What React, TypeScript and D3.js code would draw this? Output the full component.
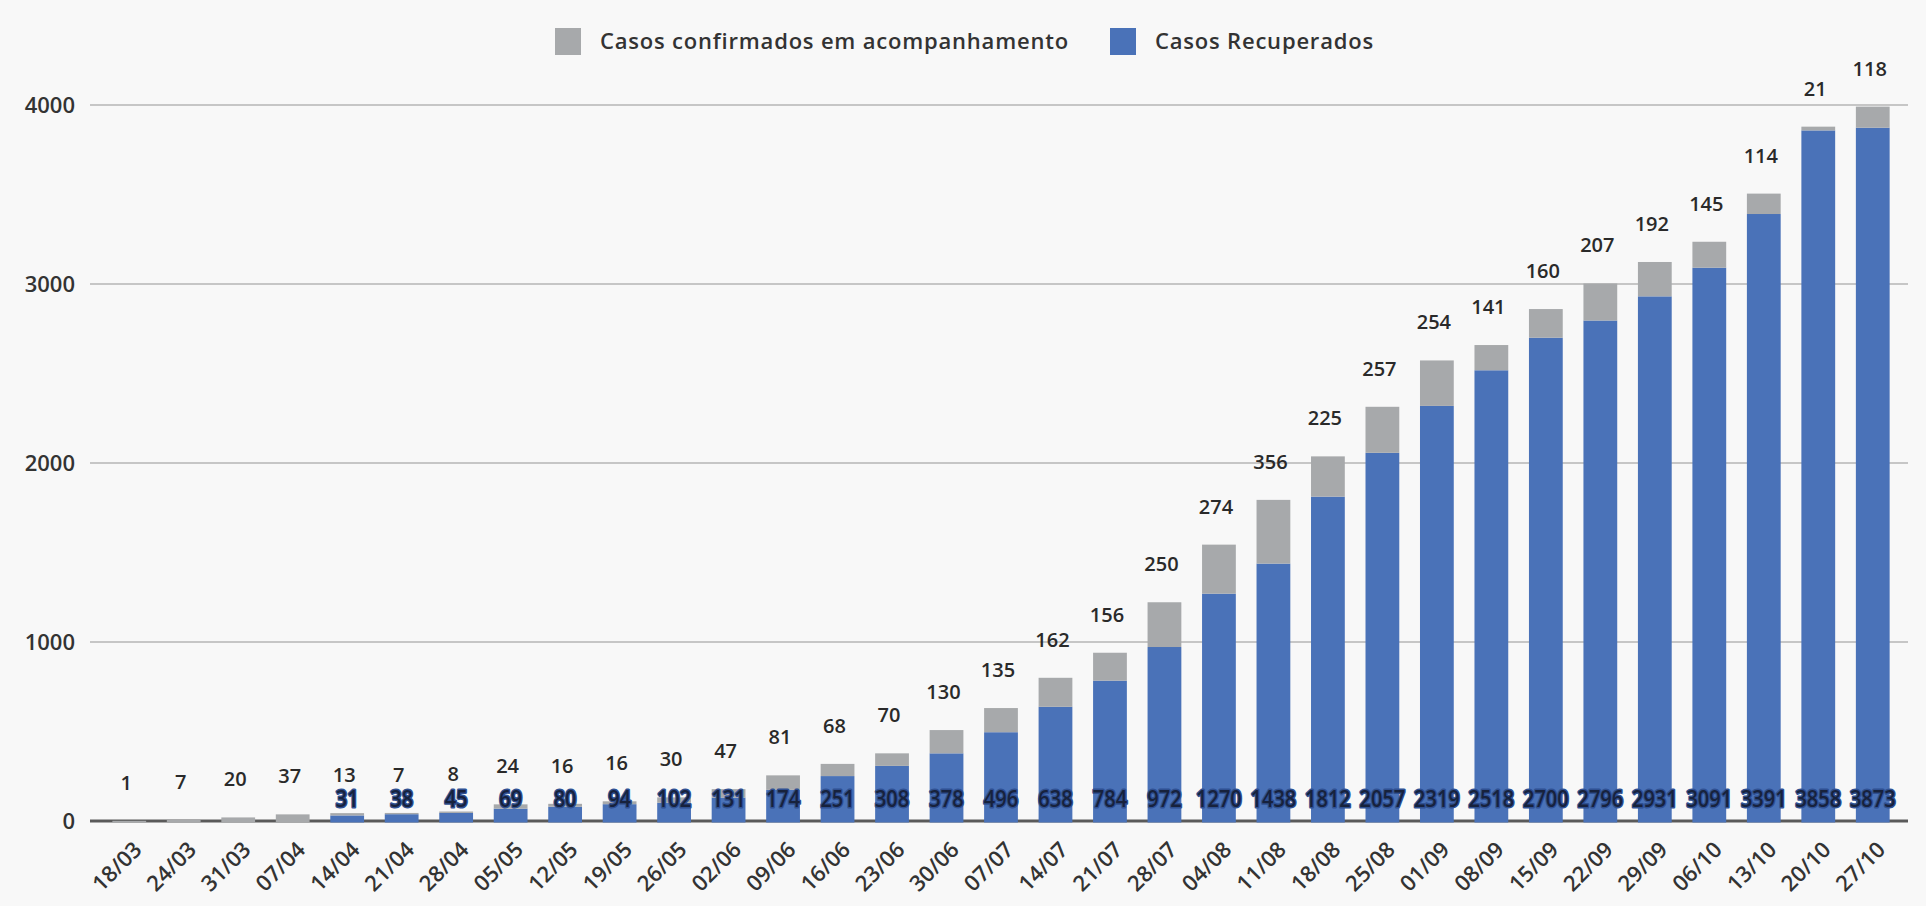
import React from 'react'
import * as d3 from 'd3'

const dates = [
  '18/03', '24/03', '31/03', '07/04', '14/04', '21/04', '28/04', '05/05', '12/05', '19/05', '26/05',
  '02/06', '09/06', '16/06', '23/06', '30/06', '07/07', '14/07', '21/07', '28/07', '04/08', '11/08',
  '18/08', '25/08', '01/09', '08/09', '15/09', '22/09', '29/09', '06/10', '13/10', '20/10', '27/10',
]
const recovered = [
  0, 0, 0, 0, 31, 38, 45, 69, 80, 94, 102,
  131, 174, 251, 308, 378, 496, 638, 784, 972, 1270, 1438,
  1812, 2057, 2319, 2518, 2700, 2796, 2931, 3091, 3391, 3858, 3873,
]
const following = [
  1, 7, 20, 37, 13, 7, 8, 24, 16, 16, 30,
  47, 81, 68, 70, 130, 135, 162, 156, 250, 274, 356,
  225, 257, 254, 141, 160, 207, 192, 145, 114, 21, 118,
]
const yTicks = [0, 1000, 2000, 3000, 4000]
const seriesNames = ['Casos confirmados em acompanhamento', 'Casos Recuperados']

const WIDTH = 1926
const HEIGHT = 906
const FONT = "'Open Sans', sans-serif"
const BLUE = '#4a72b8'
const GREY = '#a7a9ab'

export default function App () {
  const x = d3.scaleBand()
    .domain(dates)
    .range([102, 1900])
    .paddingInner(0.38)
    .paddingOuter(0.19)
  const y = d3.scaleLinear().domain([0, 4000]).range([821, 105])

  const rows = dates.map((date, i) => ({ date, recovered: recovered[i], following: following[i] }))
  const stacked = d3.stack().keys(['recovered', 'following'])(rows as any)
  const colors = [BLUE, GREY]
  const bw = x.bandwidth()

  return (
    <svg width={WIDTH} height={HEIGHT} style={{ position: 'absolute', left: 0, top: 0 }}
      fontFamily={FONT}>
      <rect width={WIDTH} height={HEIGHT} fill="#f8f8f8" />

      {/* legend */}
      <g>
        <rect x={555} y={28} width={26} height={27} fill={GREY} />
        <text x={600} y={41} dy="0.35em" fontSize={22} fontWeight={600} letterSpacing={0.8} fill="#333">
          {seriesNames[0]}
        </text>
        <rect x={1110} y={28} width={26} height={27} fill={BLUE} />
        <text x={1155} y={41} dy="0.35em" fontSize={22} fontWeight={600} letterSpacing={0.8} fill="#333">
          {seriesNames[1]}
        </text>
      </g>

      {/* grid + y labels */}
      {yTicks.map(t => (
        <g key={t}>
          {t > 0 && <line x1={90} x2={1908} y1={y(t)} y2={y(t)} stroke="#c6c6c6" strokeWidth={2} />}
          <text x={75} y={y(t)} dy="0.35em" textAnchor="end" fontSize={22} fontWeight={600} fill="#333">
            {t}
          </text>
        </g>
      ))}
      <line x1={90} x2={1908} y1={y(0)} y2={y(0)} stroke="#5a5a5a" strokeWidth={3} />

      {/* bars */}
      {stacked.map((layer, li) => (
        <g key={li} fill={colors[li]}>
          {layer.map((d, i) => {
            const v = d[1] - d[0]
            if (v <= 0) return null
            const bottom = d[0] === 0 ? y(0) + 1.5 : y(d[0])
            return (
              <rect key={i} x={x(dates[i])} y={y(d[1])} width={bw} height={bottom - y(d[1])} />
            )
          })}
        </g>
      ))}

      {/* top labels (acompanhamento) */}
      {dates.map((date, i) => (
        <text key={date} x={x(date)! + bw / 2 - 3} y={y(recovered[i] + following[i]) - 31}
          textAnchor="middle" fontSize={20} fontWeight={600} fill="#2a2a2a">
          {following[i]}
        </text>
      ))}

      {/* bottom labels (recuperados) */}
      {dates.map((date, i) => recovered[i] > 0 && (
        <text key={date} transform={`translate(${x(date)! + bw / 2},${807}) scale(1,1.2)`}
          textAnchor="middle" fontSize={20} fontWeight={600} fill="#17223d"
          stroke="#2f5092" strokeWidth={2.5} paintOrder="stroke" strokeLinejoin="round">
          {recovered[i]}
        </text>
      ))}

      {/* x labels */}
      {dates.map(date => {
        const cx = x(date)! + bw / 2
        return (
          <text key={date} transform={`translate(${cx + 14},${851}) rotate(-45)`}
            textAnchor="end" fontSize={22} fontWeight={600} fill="#333">
            {date}
          </text>
        )
      })}
    </svg>
  )
}
